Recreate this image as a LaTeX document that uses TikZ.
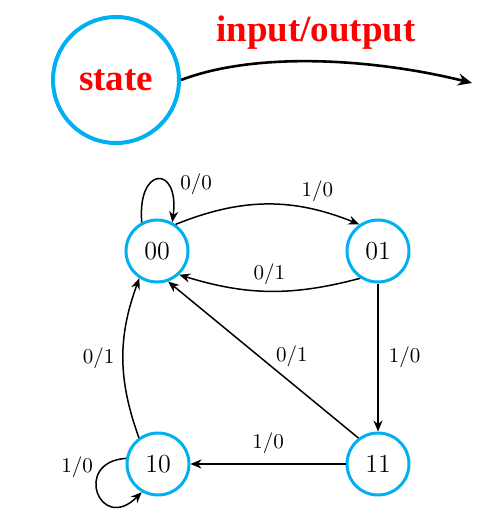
\documentclass[tikz,border=0pt]{standalone}
\usepackage{fontspec}
\newfontfamily\headfont{Liberation Serif}
\usetikzlibrary{arrows.meta}
\definecolor{stateblue}{RGB}{0,176,240}
\begin{document}
\begin{tikzpicture}[x=0.5pt, y=0.5pt,
		fsm/.style={circle, draw=stateblue, line width=1.5pt, minimum size=31pt, inner sep=0pt, font=\fontsize{13}{15}\selectfont},
		edge/.style={line width=0.75pt, -{Stealth[length=5.5pt, width=4.5pt]}},
		lbl/.style={font=\fontsize{10.5}{12}\selectfont, inner sep=0pt}]
			\useasboundingbox (0,0) rectangle (498,-509);
			% legend
			\node[circle, draw=stateblue, line width=2pt, minimum size=63pt, inner sep=0pt, text=red, font=\headfont\bfseries\fontsize{18.5}{20}\selectfont] (legend) at (116,-80) {state};
			\coordinate (sink) at (472,-83);
			\draw[line width=1.3pt, -{Stealth[length=7pt, width=6pt]}] (legend.east) .. controls (260,-50) and (380,-60) .. (sink);
			\node[text=red, font=\headfont\bfseries\fontsize{18.5}{20}\selectfont] (legendlbl) at (316,-33) {input/output};
			% states
			\node[fsm] (s00) at (157,-251) {00};
			\node[fsm] (s01) at (378,-251) {01};
			\node[fsm] (s10) at (158,-464) {10};
			\node[fsm] (s11) at (378,-464) {11};
			% transitions
			\draw[edge] (s00.118) .. controls (137,-165) and (180,-165) .. (s00.62);
			\node[lbl] (l1) at (196,-184) {0/0};
			\draw[edge] (s00.55) to[bend left=22] node[lbl, pos=0.78, above=4pt] (l2) {1/0} (s01.125);
			\draw[edge] (s01.237) to[bend left=16] node[lbl, pos=0.5, above=3pt] (l3) {0/1} (s00.313);
			\draw[edge] (s01.south) -- node[lbl, right=5pt] (l4) {1/0} (s11.north);
			\draw[edge] (s11.127) -- node[lbl, pos=0.35, above=8pt] (l5) {0/1} (s00.-70);
			\draw[edge] (s10.126) to[bend left=20] node[lbl, left=4pt] (l6) {0/1} (s00.237);
			\draw[edge] (s11.west) -- node[lbl, above=5pt] (l7) {1/0} (s10.east);
			\draw[edge] (s10.170) .. controls (72,-462) and (100,-534) .. (s10.240);
			\node[lbl] (l8) at (77,-467) {1/0};
		\end{tikzpicture}
\end{document}
